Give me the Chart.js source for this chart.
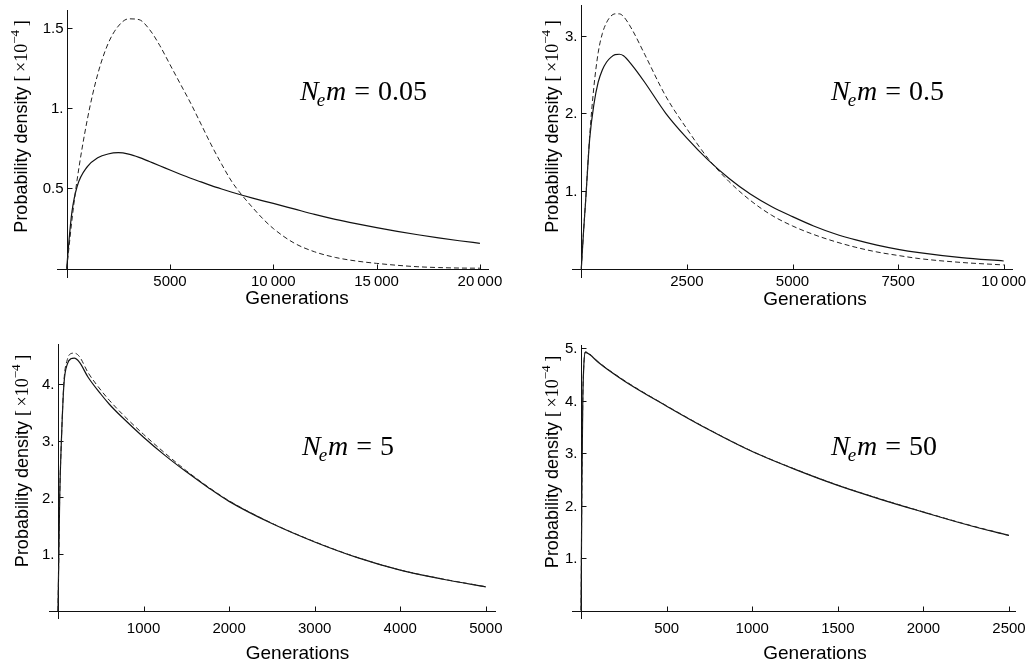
<!DOCTYPE html>
<html>
<head>
<meta charset="utf-8">
<script src="https://cdn.jsdelivr.net/npm/chart.js@4.4.1/dist/chart.umd.min.js"></script>
<style>
  body { margin: 0; background: #fff; }
  .panel { position: absolute; }
  canvas { display: block; }
</style>
</head>
<body>
<div class="panel" style="left:0;top:0"><canvas id="c1" width="513" height="332"></canvas></div>
<div class="panel" style="left:513px;top:0"><canvas id="c2" width="513" height="332"></canvas></div>
<div class="panel" style="left:0;top:332px"><canvas id="c3" width="513" height="333"></canvas></div>
<div class="panel" style="left:513px;top:332px"><canvas id="c4" width="513" height="333"></canvas></div>
<script>
// values, in units of 1e-4
const p1Gens = [0, 100, 250, 500, 1000, 1500, 2000, 2500, 3000, 3500, 4000, 4500, 5000, 5500, 6000, 6500, 7000, 7500, 8000, 8500, 9000, 9500, 10000, 11000, 12000, 13000, 14000, 15000, 16000, 17000, 18000, 19000, 20000];
const p1Solid = [0, 0.16, 0.35, 0.51, 0.635, 0.69, 0.714, 0.722, 0.713, 0.693, 0.667, 0.641, 0.614, 0.588, 0.563, 0.54, 0.517, 0.496, 0.476, 0.457, 0.439, 0.422, 0.406, 0.372, 0.338, 0.307, 0.28, 0.255, 0.232, 0.211, 0.192, 0.174, 0.158];
const p1Dashed = [0, 0.12, 0.3, 0.55, 0.93, 1.21, 1.4, 1.51, 1.555, 1.55, 1.49, 1.39, 1.27, 1.15, 1.03, 0.9, 0.77, 0.65, 0.54, 0.455, 0.38, 0.31, 0.25, 0.16, 0.105, 0.07, 0.048, 0.033, 0.021, 0.012, 0.007, 0.004, 0.003];

const p2Gens = [0, 50, 100, 200, 300, 400, 500, 600, 700, 800, 900, 1000, 1200, 1500, 2000, 2500, 3000, 3500, 4000, 4500, 5000, 5500, 6000, 6500, 7000, 7500, 8000, 9000, 10000];
const p2Solid = [0, 0.45, 0.85, 1.68, 2.12, 2.4, 2.56, 2.66, 2.72, 2.755, 2.76, 2.74, 2.62, 2.4, 2.0, 1.68, 1.4, 1.16, 0.96, 0.8, 0.67, 0.55, 0.45, 0.37, 0.303, 0.249, 0.207, 0.142, 0.099];
const p2Dashed = [0, 0.45, 0.85, 1.72, 2.35, 2.78, 3.03, 3.17, 3.25, 3.28, 3.28, 3.245, 3.08, 2.76, 2.22, 1.8, 1.42, 1.12, 0.88, 0.69, 0.55, 0.44, 0.35, 0.275, 0.215, 0.17, 0.13, 0.08, 0.048];

const p3Gens = [0, 10, 20, 40, 70, 110, 150, 190, 250, 350, 500, 600, 750, 1000, 1250, 1500, 1750, 2000, 2500, 3000, 3500, 4000, 4500, 5000];
const p3Solid = [0, 1.0, 2.0, 3.0, 4.0, 4.35, 4.44, 4.45, 4.38, 4.12, 3.82, 3.64, 3.41, 3.06, 2.74, 2.45, 2.18, 1.93, 1.54, 1.216, 0.94, 0.72, 0.56, 0.425];
const p3Dashed = [0, 1.0, 2.0, 3.0, 4.05, 4.43, 4.53, 4.54, 4.48, 4.2, 3.89, 3.71, 3.47, 3.11, 2.78, 2.47, 2.19, 1.94, 1.545, 1.22, 0.943, 0.722, 0.563, 0.428];

const p4Gens = [0, 5, 10, 15, 25, 50, 100, 250, 500, 750, 1000, 1250, 1500, 1750, 2000, 2250, 2500];
const p4Solid = [0, 2.5, 4.0, 4.6, 4.92, 4.88, 4.73, 4.38, 3.895, 3.44, 3.03, 2.69, 2.385, 2.12, 1.876, 1.64, 1.43];
const p4Dashed = [0, 2.5, 4.0, 4.6, 4.93, 4.89, 4.74, 4.39, 3.9, 3.445, 3.035, 2.695, 2.39, 2.125, 1.88, 1.645, 1.435];

const p1XTicks = [5000, 10000, 15000, 20000];
const p1XLabels = ['5000', '10\u2009000', '15\u2009000', '20\u2009000'];
const p1YTicks = [0.5, 1, 1.5];
const p1YLabels = ['0.5', '1.', '1.5'];

const p2XTicks = [2500, 5000, 7500, 10000];
const p2XLabels = ['2500', '5000', '7500', '10\u2009000'];
const p2YTicks = [1, 2, 3];
const p2YLabels = ['1.', '2.', '3.'];

const p3XTicks = [1000, 2000, 3000, 4000, 5000];
const p3XLabels = ['1000', '2000', '3000', '4000', '5000'];
const p3YTicks = [1, 2, 3, 4];
const p3YLabels = ['1.', '2.', '3.', '4.'];

const p4XTicks = [500, 1000, 1500, 2000, 2500];
const p4XLabels = ['500', '1000', '1500', '2000', '2500'];
const p4YTicks = [1, 2, 3, 4, 5];
const p4YLabels = ['1.', '2.', '3.', '4.', '5.'];

const nemValues = ['0.05', '0.5', '5', '50'];

const SANS = '"Liberation Sans", Arial, Helvetica, sans-serif';
const SERIF = '"Liberation Serif", "Times New Roman", serif';

function drawYTitle(ctx, bx, cy) {
  const parts = [
    { t: 'Probability density ', f: '18px ' + SANS, dy: 0 },
    { t: '[\u2009', f: '18px ' + SERIF, dy: 0 },
    { t: '\u00d710', f: '18px ' + SERIF, dy: 0 },
    { t: '\u22124', f: '13px ' + SERIF, dy: -8 },
    { t: '\u2009]', f: '18px ' + SERIF, dy: 0 }
  ];
  let total = 0;
  parts.forEach(p => { ctx.font = p.f; p.w = ctx.measureText(p.t).width; total += p.w; });
  ctx.save();
  ctx.translate(bx, cy);
  ctx.rotate(-Math.PI / 2);
  ctx.textAlign = 'left';
  ctx.textBaseline = 'alphabetic';
  let x = -total / 2;
  parts.forEach(p => { ctx.font = p.f; ctx.fillText(p.t, x, p.dy); x += p.w; });
  ctx.restore();
}

function drawNem(ctx, x, y, value) {
  ctx.save();
  ctx.textAlign = 'left';
  ctx.textBaseline = 'alphabetic';
  ctx.font = 'italic 28px ' + SERIF;
  ctx.fillText('N', x, y);
  x += ctx.measureText('N').width - 2;
  ctx.font = 'italic 19px ' + SERIF;
  ctx.fillText('e', x, y + 6);
  x += ctx.measureText('e').width + 1;
  ctx.font = 'italic 28px ' + SERIF;
  ctx.fillText('m', x, y);
  x += ctx.measureText('m').width + 8;
  ctx.font = '28px ' + SERIF;
  ctx.fillText('=', x, y);
  x += ctx.measureText('=').width + 8;
  ctx.fillText(value, x, y);
  ctx.restore();
}

function makePanel(id, p) {
  const axesPlugin = {
    id: 'mmaAxes',
    beforeDatasetsDraw(chart) {
      const { ctx, chartArea: a, scales: { x, y } } = chart;
      const x0 = Math.round(x.getPixelForValue(0)) + 0.5;
      const y0 = Math.round(y.getPixelForValue(0)) + 0.5;
      ctx.save();
      ctx.strokeStyle = '#111';
      ctx.lineWidth = 1;
      ctx.beginPath();
      ctx.moveTo(a.left, y0); ctx.lineTo(a.right, y0);
      ctx.moveTo(x0, a.top); ctx.lineTo(x0, a.bottom);
      p.xTicks.forEach(v => {
        const px = Math.round(x.getPixelForValue(v)) + 0.5;
        ctx.moveTo(px, y0); ctx.lineTo(px, y0 - 5);
      });
      p.yTicks.forEach(v => {
        const py = Math.round(y.getPixelForValue(v)) + 0.5;
        ctx.moveTo(x0, py); ctx.lineTo(x0 + 5, py);
      });
      ctx.stroke();

      ctx.fillStyle = '#000';
      ctx.font = '15px ' + SANS;
      ctx.textAlign = 'center';
      ctx.textBaseline = 'alphabetic';
      p.xTicks.forEach((v, i) => ctx.fillText(p.xLabels[i], x.getPixelForValue(v), y0 + p.tickDy));
      ctx.textAlign = 'right';
      ctx.textBaseline = 'middle';
      p.yTicks.forEach((v, i) => ctx.fillText(p.yLabels[i], x0 - 4, y.getPixelForValue(v) + 1));

      ctx.font = '19px ' + SANS;
      ctx.textAlign = 'center';
      ctx.textBaseline = 'alphabetic';
      ctx.fillText('Generations', p.xTitle[0], p.xTitle[1]);
      drawYTitle(ctx, p.yTitle[0], p.yTitle[1]);
      drawNem(ctx, p.nemPos[0], p.nemPos[1], p.nem);
      ctx.restore();
    }
  };

  const toPoints = vals => vals.map((v, i) => ({ x: p.gens[i], y: v }));

  return new Chart(document.getElementById(id), {
    type: 'line',
    data: {
      datasets: [
        {
          label: 'dashed',
          data: toPoints(p.dashed),
          borderColor: '#222',
          borderWidth: 1,
          borderDash: [5, 3],
          pointRadius: 0,
          cubicInterpolationMode: 'monotone',
          fill: false
        },
        {
          label: 'solid',
          data: toPoints(p.solid),
          borderColor: '#111',
          borderWidth: 1.2,
          pointRadius: 0,
          cubicInterpolationMode: 'monotone',
          fill: false
        }
      ]
    },
    options: {
      responsive: false,
      animation: false,
      devicePixelRatio: 1,
      events: [],
      layout: { padding: p.padding },
      plugins: { legend: { display: false }, tooltip: { enabled: false } },
      scales: {
        x: { type: 'linear', display: false, min: p.xRange[0], max: p.xRange[1] },
        y: { type: 'linear', display: false, min: p.yRange[0], max: p.yRange[1] }
      }
    },
    plugins: [axesPlugin]
  });
}

makePanel('c1', {
  gens: p1Gens, solid: p1Solid, dashed: p1Dashed,
  xTicks: p1XTicks, xLabels: p1XLabels, yTicks: p1YTicks, yLabels: p1YLabels,
  nem: nemValues[0],
  xRange: [-470, 20440], yRange: [-0.058, 1.61],
  padding: { left: 57, right: 24, top: 10, bottom: 54 },
  tickDy: 16.5, xTitle: [297, 304], yTitle: [26.5, 126.5], nemPos: [300, 100]
});

makePanel('c2', {
  gens: p2Gens, solid: p2Solid, dashed: p2Dashed,
  xTicks: p2XTicks, xLabels: p2XLabels, yTicks: p2YTicks, yLabels: p2YLabels,
  nem: nemValues[1],
  xRange: [-220, 10220], yRange: [-0.12, 3.394],
  padding: { left: 59, right: 13, top: 5, bottom: 54 },
  tickDy: 16.5, xTitle: [302, 305], yTitle: [44.5, 126.5], nemPos: [318, 100]
});

makePanel('c3', {
  gens: p3Gens, solid: p3Solid, dashed: p3Dashed,
  xTicks: p3XTicks, xLabels: p3XLabels, yTicks: p3YTicks, yLabels: p3YLabels,
  nem: nemValues[2],
  xRange: [-105, 5119], yRange: [-0.14, 4.70],
  padding: { left: 49, right: 17, top: 12, bottom: 46 },
  tickDy: 21, xTitle: [297.5, 326.5], yTitle: [28, 129], nemPos: [302, 122.7]
});

makePanel('c4', {
  gens: p4Gens, solid: p4Solid, dashed: p4Dashed,
  xTicks: p4XTicks, xLabels: p4XLabels, yTicks: p4YTicks, yLabels: p4YLabels,
  nem: nemValues[3],
  xRange: [-53, 2541], yRange: [-0.16, 5.06],
  padding: { left: 59, right: 10, top: 13, bottom: 46 },
  tickDy: 21.5, xTitle: [302, 326.5], yTitle: [44.5, 130], nemPos: [318, 122.7]
});
</script>
</body>
</html>
